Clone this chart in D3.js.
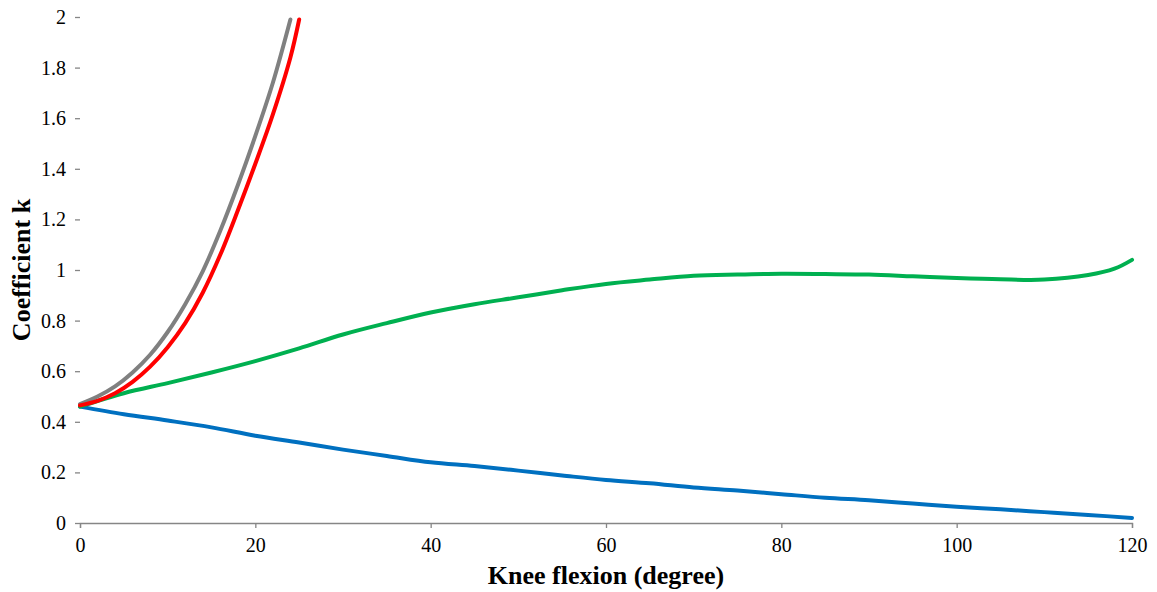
<!DOCTYPE html>
<html>
<head>
<meta charset="utf-8">
<script src="https://cdn.jsdelivr.net/npm/d3@7"></script>
<style>
  html, body { margin: 0; padding: 0; background: #fff; }
  svg { display: block; }
  .axis text { font-family: "Liberation Serif", "Times New Roman", serif; font-size: 20px; fill: #000; }
</style>
</head>
<body>
<svg id="chart" width="1157" height="592"></svg>
<script>
// Knee flexion angle (degrees) and coefficient k for each curve
const blueAngles = [0, 5, 10, 15, 20, 25, 30, 35, 40, 45, 50, 55, 60, 65, 70, 75, 80, 85, 90, 95, 100, 105, 110, 115, 120];
const blueK = [0.46, 0.43, 0.405, 0.378, 0.345, 0.318, 0.29, 0.265, 0.24, 0.225, 0.207, 0.188, 0.17, 0.157, 0.14, 0.128, 0.114, 0.1, 0.09, 0.077, 0.064, 0.054, 0.043, 0.032, 0.02];

const greenAngles = [0, 5, 10, 15, 20, 25, 30, 35, 40, 45, 50, 55, 60, 65, 70, 75, 80, 85, 90, 95, 100, 105, 110, 115, 118, 120];
const greenK = [0.46, 0.513, 0.553, 0.595, 0.64, 0.69, 0.745, 0.79, 0.832, 0.865, 0.892, 0.92, 0.945, 0.962, 0.977, 0.982, 0.985, 0.984, 0.982, 0.975, 0.968, 0.963, 0.962, 0.98, 1.005, 1.04];

const grayAngles = [0, 2, 4, 6, 8, 10, 12, 14, 16, 18, 20, 22, 24];
const grayK = [0.47, 0.5, 0.54, 0.595, 0.665, 0.755, 0.865, 0.995, 1.155, 1.335, 1.53, 1.74, 1.99];

const redAngles = [0, 2, 4, 6, 8, 10, 12, 14, 16, 18, 20, 22, 24, 25];
const redK = [0.465, 0.483, 0.513, 0.558, 0.618, 0.695, 0.79, 0.91, 1.06, 1.235, 1.42, 1.615, 1.84, 1.99];

const xTicks = [0, 20, 40, 60, 80, 100, 120];
const yTicks = [0, 0.2, 0.4, 0.6, 0.8, 1, 1.2, 1.4, 1.6, 1.8, 2];

const series = [
  { name: "blue", angles: blueAngles, k: blueK, color: "#0070C0" },
  { name: "green", angles: greenAngles, k: greenK, color: "#00B050" },
  { name: "gray", angles: grayAngles, k: grayK, color: "#808080" },
  { name: "red", angles: redAngles, k: redK, color: "#FF0000" }
];

const serif = "'Liberation Serif', 'Times New Roman', serif";
const svg = d3.select("#chart");
const margin = { top: 17, right: 25, bottom: 69, left: 80 };
const width = 1157, height = 592;

const x = d3.scaleLinear().domain([0, 120]).range([margin.left, width - margin.right]);
const y = d3.scaleLinear().domain([0, 2]).range([height - margin.bottom, margin.top]);

const axisColor = "#868686";

// x axis
const gx = svg.append("g")
  .attr("class", "axis")
  .attr("transform", `translate(0,${y(0)})`)
  .call(d3.axisBottom(x).tickValues(xTicks).tickSize(5).tickPadding(10).tickFormat(d3.format("d")))
  .attr("font-family", serif)
  .attr("font-size", 20);
gx.select(".domain").attr("stroke", axisColor).attr("stroke-width", 1.3);
gx.selectAll(".tick line").attr("stroke", axisColor).attr("stroke-width", 1.3);

// y axis (tick marks only, no spine)
const gy = svg.append("g")
  .attr("class", "axis")
  .attr("transform", `translate(${x(0)},0)`)
  .call(d3.axisLeft(y).tickValues(yTicks).tickSize(5).tickPadding(9).tickFormat(d => d3.format("~g")(d)))
  .attr("font-family", serif)
  .attr("font-size", 20);
gy.select(".domain").remove();
gy.selectAll(".tick line").attr("stroke", axisColor).attr("stroke-width", 1.3);

// curves
const line = d3.line()
  .x(d => x(d[0]))
  .y(d => y(d[1]))
  .curve(d3.curveCatmullRom.alpha(0.5));

series.forEach(s => {
  const pts = s.angles.map((a, i) => [a, s.k[i]]);
  svg.append("path")
    .datum(pts)
    .attr("fill", "none")
    .attr("stroke", s.color)
    .attr("stroke-width", 4)
    .attr("stroke-linecap", "round")
    .attr("stroke-linejoin", "round")
    .attr("d", line);
});

// axis titles
svg.append("text")
  .attr("x", 606)
  .attr("y", 584)
  .attr("text-anchor", "middle")
  .style("font-family", serif)
  .style("font-size", "26px")
  .style("font-weight", "bold")
  .text("Knee flexion (degree)");

svg.append("text")
  .attr("transform", "translate(30,270) rotate(-90)")
  .attr("text-anchor", "middle")
  .style("font-family", serif)
  .style("font-size", "26px")
  .style("font-weight", "bold")
  .text("Coefficient k");
</script>
</body>
</html>
